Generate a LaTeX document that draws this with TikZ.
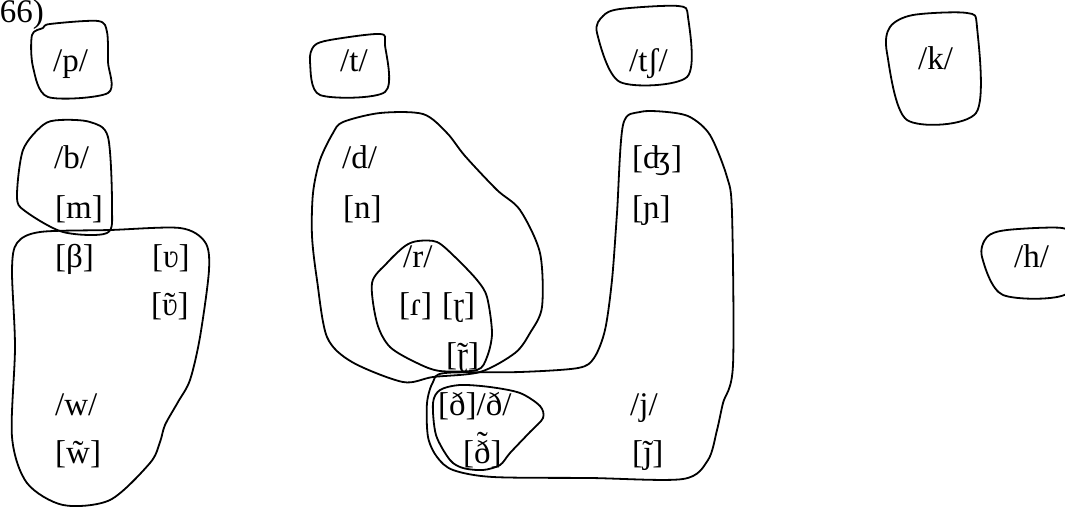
\documentclass[tikz,border=0pt]{standalone}
\usepackage{fontspec}
\setmainfont{Liberation Serif}
\newcommand\tld[1]{\accent"02DC #1}
\begin{document}
\begin{tikzpicture}[x=1pt,y=-1pt,
  lbl/.style={anchor=base west,inner sep=0pt,font=\fontsize{33}{38}\selectfont},
  blob/.style={smooth cycle,tension=0.5},
  pen/.style={line width=1.8pt,line join=round}]
\useasboundingbox (0,0) rectangle (1065,506);
% title
\node[lbl,anchor=base east] (num) at (44,23) {(66)};
% labels
\node[lbl] (p) at (53,71) {/p/};
\node[lbl] (t) at (340,71) {/t/};
\node[lbl] (tsh) at (629,71) {/tʃ/};
\node[lbl] (k) at (918,69) {/k/};
\node[lbl] (b) at (54,168) {/b/};
\node[lbl] (m) at (55,218) {[m]};
\node[lbl] (d) at (342,168) {/d/};
\node[lbl] (n) at (343,218) {[n]};
\node[lbl] (dzh) at (632,168) {[ʤ]};
\node[lbl] (ny) at (632,218) {[ɲ]};
\node[lbl] (beta) at (55,267) {[β]};
\node[lbl] (v) at (152,267) {[ʋ]};
\node[lbl] (vn) at (151,315) {[\tld{ʋ}]};
\node[lbl] (r) at (403,267) {/r/};
\node[lbl] (h) at (1014,267) {/h/};
\node[lbl] (tap) at (399,315) {[ɾ]};
\node[lbl] (rtap) at (442,315) {[ɽ]};
\node[lbl] (rtapn) at (446,365) {[\tld{ɽ}]};
\node[lbl] (w) at (55,415) {/w/};
\node[lbl] (wn) at (55,463) {[\tld{w}]};
\node[lbl] (dh) at (438,415) {[ð]/ð/};
\node[lbl] (dhn) at (463,463) {[\tld{ð}]};
\node[lbl] (j) at (630,415) {/j/};
\node[lbl] (jn) at (632,463) {[\tld{ȷ}]};
% loops
\draw[pen] plot[blob] coordinates {(50,24) (98,21) (107,32) (108,62) (108,93) (48,97) (33,67) (32,35) (43,28)};
\draw[pen] plot[blob] coordinates {(330,40) (380,34) (385,45) (385,92) (320,95) (310,62) (314,46)};
\draw[pen] plot[blob] coordinates {(620,9) (678,6) (688,17) (687,77) (620,82) (597,33) (603,16)};
\draw[pen] plot[blob] coordinates {(913,15) (967,13) (977,27) (976,113) (907,120) (887,53) (890,27)};
\draw[pen] plot[blob] coordinates {(1007,230) (1062,228) (1068,240) (1068,293) (1003,295) (982,257) (987,237)};
% b
\draw[pen] plot[blob] coordinates {(60,120) (43,125) (23,150) (17,197) (25,211) (63,232) (107,233) (112,207) (108,137) (90,122)};
% beta/w
\draw[pen] plot[blob] coordinates {(40,232) (110,230) (180,228) (205,242) (209,270) (200,337) (190,380) (178,402) (165,425) (160,442) (150,463) (110,500) (63,505) (27,483) (12,437) (15,347) (12,270) (17,243)};
% d
\draw[pen] plot[blob] coordinates {(343,122) (380,113) (423,114) (447,133) (465,156) (497,190) (520,210) (540,253) (542,307) (530,333) (515,353) (480,372) (433,377) (403,382) (352,362) (327,337) (317,280) (312,236) (313,193) (320,160) (333,133)};
% r
\draw[pen] plot[blob] coordinates {(418,241) (437,242) (455,257) (477,280) (487,297) (492,333) (487,357) (477,370) (440,371) (417,363) (390,347) (377,323) (372,283) (387,263) (405,246)};
% J shape
\draw[pen] plot[blob] coordinates {(445,373) (520,372) (578,368) (594,358) (605,330) (612,280) (617,213) (623,125) (640,112) (667,112) (690,117) (710,135) (727,177) (732,213) (733,365) (723,403) (717,430) (708,460) (683,479) (590,478) (493,477) (453,470) (437,457) (428,437) (427,403) (433,382)};
% dh
\draw[pen] plot[blob] coordinates {(460,385) (490,387) (520,393) (540,406) (543,418) (530,432) (510,453) (500,465) (483,470) (463,468) (450,460) (436,435) (433,403) (440,390)};
\end{tikzpicture}
\end{document}
